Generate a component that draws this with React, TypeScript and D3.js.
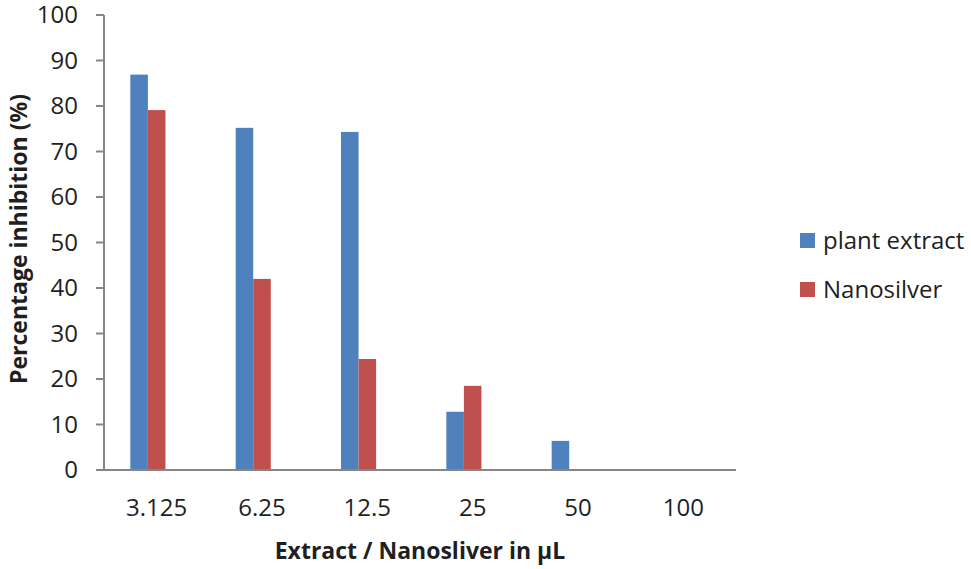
import { useEffect, useRef } from "react";
import * as d3 from "d3";

const categories = ["3.125", "6.25", "12.5", "25", "50", "100"];
const seriesNames = ["plant extract", "Nanosilver"];
const plantExtract = [86.9, 75.2, 74.3, 12.8, 6.4, 0];
const nanosilver = [79.1, 42.0, 24.4, 18.5, 0, 0];
const yTicks = [0, 10, 20, 30, 40, 50, 60, 70, 80, 90, 100];

const colors = ["#4F81BD", "#C0504D"];
const axisColor = "#868686";
const textColor = "#1f1f1f";
const font = "'Open Sans', 'Noto Sans', sans-serif";

export default function App() {
  const svgRef = useRef<SVGSVGElement>(null);

  useEffect(() => {
    if (!svgRef.current) return;
    const svg = d3.select(svgRef.current);
    svg.selectAll("*").remove();

    const width = 971;
    const height = 569;
    const left = 104;
    const right = 736;
    const top = 15;
    const bottom = 470;

    const x0 = d3.scaleBand().domain(categories).range([left, right]).padding(0);
    const bw = x0.bandwidth();
    // Excel-like cluster: bars occupy a third of the middle half each
    const x1 = d3
      .scaleBand()
      .domain(seriesNames)
      .range([bw * 0.25, bw * 0.25 + (bw * 2) / 6]);
    const y = d3.scaleLinear().domain([0, 100]).range([bottom, top]);

    svg.attr("width", width).attr("height", height).attr("viewBox", `0 0 ${width} ${height}`);
    svg.append("rect").attr("width", width).attr("height", height).attr("fill", "#fff");

    const rows = categories.map((c, i) => ({ cat: c, values: [plantExtract[i], nanosilver[i]] }));

    const groups = svg
      .selectAll(".grp")
      .data(rows)
      .enter()
      .append("g")
      .attr("transform", (d) => `translate(${x0(d.cat)},0)`);

    groups
      .selectAll("rect")
      .data((d) => d.values.map((v, i) => ({ name: seriesNames[i], value: v, color: colors[i] })))
      .enter()
      .append("rect")
      .attr("x", (d) => x1(d.name) || 0)
      .attr("width", x1.bandwidth())
      .attr("y", (d) => y(d.value))
      .attr("height", (d) => bottom - y(d.value))
      .attr("fill", (d) => d.color);

    // y axis
    const yAxis = svg.append("g");
    yAxis
      .append("line")
      .attr("x1", left)
      .attr("x2", left)
      .attr("y1", top)
      .attr("y2", bottom)
      .attr("stroke", axisColor)
      .attr("stroke-width", 2);
    yAxis
      .selectAll(".tick")
      .data(yTicks)
      .enter()
      .append("line")
      .attr("x1", left - 8)
      .attr("x2", left)
      .attr("y1", (d) => y(d))
      .attr("y2", (d) => y(d))
      .attr("stroke", axisColor)
      .attr("stroke-width", 2);
    yAxis
      .selectAll(".lbl")
      .data(yTicks)
      .enter()
      .append("text")
      .attr("x", 78)
      .attr("y", (d) => y(d))
      .attr("dy", "0.35em")
      .attr("text-anchor", "end")
      .attr("font-family", font)
      .attr("font-size", 24)
      .attr("fill", textColor)
      .text((d) => d);

    // x axis
    svg
      .append("line")
      .attr("x1", left - 8)
      .attr("x2", right)
      .attr("y1", bottom)
      .attr("y2", bottom)
      .attr("stroke", axisColor)
      .attr("stroke-width", 2);
    svg
      .selectAll(".xlbl")
      .data(categories)
      .enter()
      .append("text")
      .attr("x", (d) => (x0(d) || 0) + bw / 2)
      .attr("y", 516)
      .attr("text-anchor", "middle")
      .attr("font-family", font)
      .attr("font-size", 24)
      .attr("fill", textColor)
      .text((d) => d);

    svg
      .append("text")
      .attr("x", 420)
      .attr("y", 559)
      .attr("text-anchor", "middle")
      .attr("font-family", font)
      .attr("font-size", 23)
      .attr("font-weight", 700)
      .attr("fill", textColor)
      .text("Extract / Nanosliver in μL");

    svg
      .append("text")
      .attr("transform", "translate(27,239) rotate(-90)")
      .attr("text-anchor", "middle")
      .attr("font-family", font)
      .attr("font-size", 23)
      .attr("font-weight", 700)
      .attr("fill", textColor)
      .text("Percentage inhibition (%)");

    // legend
    const legend = svg
      .selectAll(".leg")
      .data(seriesNames)
      .enter()
      .append("g")
      .attr("transform", (_, i) => `translate(800,${233 + i * 49})`);
    legend
      .append("rect")
      .attr("width", 15)
      .attr("height", 15)
      .attr("fill", (_, i) => colors[i]);
    legend
      .append("text")
      .attr("x", 23)
      .attr("y", 7.5)
      .attr("dy", "0.35em")
      .attr("font-family", font)
      .attr("font-size", 24)
      .attr("fill", textColor)
      .text((d) => d);
  }, []);

  return (
    <div style={{ position: "absolute", left: 0, top: 0 }}>
      <svg ref={svgRef} style={{ display: "block" }} />
    </div>
  );
}
